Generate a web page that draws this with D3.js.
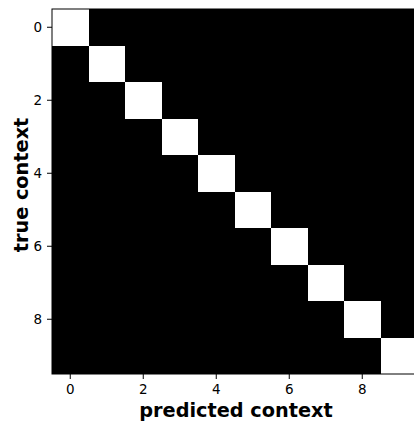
<!DOCTYPE html>
<html>
<head>
<meta charset="utf-8">
<script src="https://d3js.org/d3.v7.min.js"></script>
<style>
  body { margin: 0; background: #fff; }
  text { font-family: "DejaVu Sans", sans-serif; }
</style>
</head>
<body>
<div id="chart"></div>
<script>
// confusion matrix: rows = true context, columns = predicted context
var contexts = [0, 1, 2, 3, 4, 5, 6, 7, 8, 9];
var tickValues = [0, 2, 4, 6, 8];
var matrix = [
  [1, 0, 0, 0, 0, 0, 0, 0, 0, 0],
  [0, 1, 0, 0, 0, 0, 0, 0, 0, 0],
  [0, 0, 1, 0, 0, 0, 0, 0, 0, 0],
  [0, 0, 0, 1, 0, 0, 0, 0, 0, 0],
  [0, 0, 0, 0, 1, 0, 0, 0, 0, 0],
  [0, 0, 0, 0, 0, 1, 0, 0, 0, 0],
  [0, 0, 0, 0, 0, 0, 1, 0, 0, 0],
  [0, 0, 0, 0, 0, 0, 0, 1, 0, 0],
  [0, 0, 0, 0, 0, 0, 0, 0, 1, 0],
  [0, 0, 0, 0, 0, 0, 0, 0, 0, 1]
];

var W = 414, H = 421;
var margin = {top: 9, left: 52};
var size = 365;

var svg = d3.select("#chart").append("svg")
    .attr("width", W)
    .attr("height", H);

var g = svg.append("g")
    .attr("transform", "translate(" + margin.left + "," + margin.top + ")");

var x = d3.scaleBand().domain(contexts).range([0, size]);
var y = d3.scaleBand().domain(contexts).range([0, size]);
var color = d3.scaleLinear().domain([0, 1]).range(["#000000", "#ffffff"]);

var cells = [];
matrix.forEach(function(row, i) {
  row.forEach(function(v, j) { cells.push({r: i, c: j, v: v}); });
});

g.selectAll("rect.cell")
  .data(cells)
  .enter().append("rect")
    .attr("class", "cell")
    .attr("x", function(d) { return x(d.c); })
    .attr("y", function(d) { return y(d.r); })
    .attr("width", x.bandwidth())
    .attr("height", y.bandwidth())
    .attr("fill", function(d) { return color(d.v); })
    .attr("shape-rendering", "crispEdges");

// frame
g.append("rect")
    .attr("width", size)
    .attr("height", size)
    .attr("fill", "none")
    .attr("stroke", "#000")
    .attr("stroke-width", 1);

var xAxis = d3.axisBottom(x).tickValues(tickValues).tickSize(5).tickPadding(5);
var yAxis = d3.axisLeft(y).tickValues(tickValues).tickSize(5).tickPadding(5);

var gx = g.append("g")
    .attr("transform", "translate(0," + size + ")")
    .call(xAxis);
var gy = g.append("g").call(yAxis);

[gx, gy].forEach(function(a) {
  a.select(".domain").remove();
  a.selectAll("text")
    .attr("font-family", "DejaVu Sans")
    .attr("font-size", 13.5)
    .attr("fill", "#000");
  a.selectAll("line").attr("stroke", "#000");
});

svg.append("text")
    .attr("x", 236)
    .attr("y", 416.5)
    .attr("text-anchor", "middle")
    .attr("font-weight", "bold")
    .attr("font-size", 19.3)
    .text("predicted context");

svg.append("text")
    .attr("transform", "translate(28,185) rotate(-90)")
    .attr("text-anchor", "middle")
    .attr("font-weight", "bold")
    .attr("font-size", 19.3)
    .text("true context");
</script>
</body>
</html>
